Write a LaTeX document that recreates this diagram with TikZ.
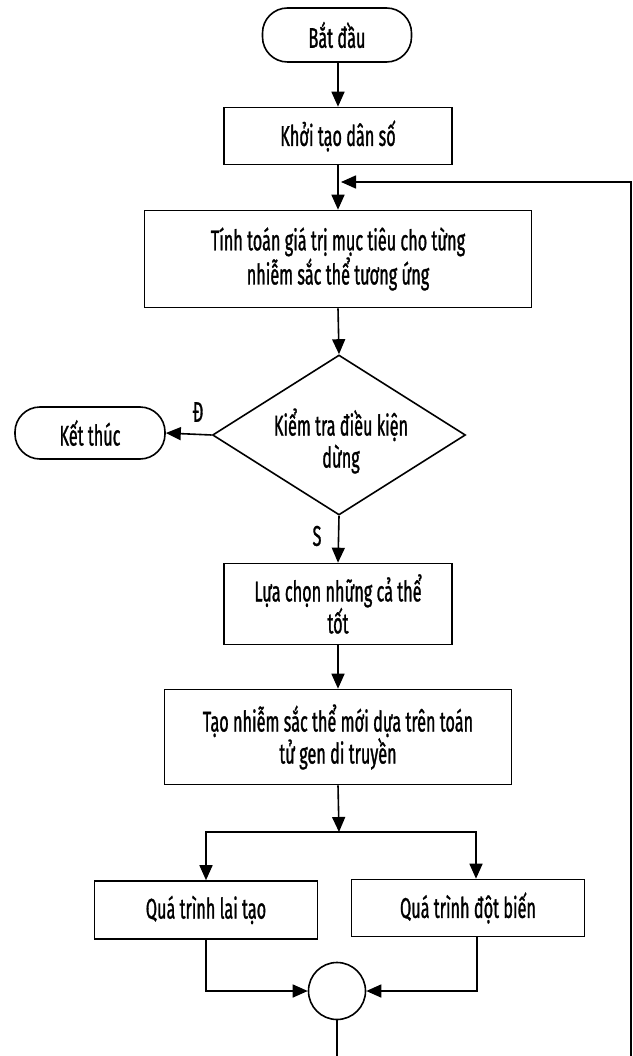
\documentclass[tikz,border=0pt]{standalone}
\usepackage{fontspec}
\setmainfont{Fira Sans}[FakeStretch=0.57,FakeBold=1.0]
\usetikzlibrary{arrows.meta,shapes.geometric}
\begin{document}
\begin{tikzpicture}[x=1pt,y=-1pt,
  every node/.style={font=\fontsize{28.5}{32}\selectfont},
  box/.style={draw,line width=1.6pt,rectangle,inner sep=0pt,align=center},
  term/.style={box,rounded corners=25pt},
  dia/.style={draw,line width=1.6pt,diamond,inner sep=0pt,minimum width=253pt,minimum height=160pt},
  jn/.style={draw,line width=1.6pt,circle,inner sep=0pt,minimum size=57pt},
  arr/.style={line width=1.6pt,-{Triangle[length=15pt,width=13pt]}},
  ln/.style={line width=1.6pt},
  lbl/.style={inner sep=0pt}]
\useasboundingbox (0,0) rectangle (632,1056);
\fill[white] (0,0) rectangle (632,1056);
\node[term,minimum width=149pt,minimum height=54pt] (start) at (337,35) {Bắt đầu};
\node[box,minimum width=228pt,minimum height=57pt] (init) at (338,136) {Khởi tạo dân số};
\node[box,minimum width=387pt,minimum height=97pt] (calc) at (338,259) {Tính toán giá trị mục tiêu cho từng\\nhiễm sắc thể tương ứng};
\node[dia] (dec) at (339,435) {};
\node[lbl,align=center] (dect) at (341,441) {Kiểm tra điều kiện\\dừng};
\node[term,minimum width=150pt,minimum height=52pt] (stop) at (90,433) {Kết thúc};
\node[box,minimum width=228pt,minimum height=81pt] (sel) at (338,604) {Lựa chọn những cả thể\\tốt};
\node[box,minimum width=347pt,minimum height=95pt] (gen) at (338,737) {Tạo nhiễm sắc thể mới dựa trên toán\\tử gen di truyền};
\node[box,minimum width=223pt,minimum height=58pt] (cross) at (206,910) {Quá trình lai tạo};
\node[box,minimum width=233pt,minimum height=57pt] (mut) at (468,908) {Quá trình đột biến};
\node[jn] (join) at (337,991) {};
\node[lbl] (lblD) at (198,412) {Đ};
\node[lbl] (lblS) at (317,536) {S};
\coordinate (loopIn) at (341,182);
\coordinate (loopR) at (631,182);
\coordinate (loopB) at (631,1080);
\coordinate (br) at (339,832);
\draw[arr] (start.south -| init.north) -- (init.north);
\draw[arr] (init.south) -- (calc.north);
\draw[arr] (calc.south) -- (dec.north);
\draw[arr] (dec.west) -- (stop.east);
\draw[arr] (dec.south) -- (sel.north);
\draw[arr] (sel.south) -- (gen.north);
\draw[arr] (gen.south) -- (br);
\draw[arr] (br) -| (cross.north);
\draw[arr] (br) -| ([xshift=8pt]mut.north);
\draw[arr] (cross.south) |- (join.west);
\draw[arr] ([xshift=9pt]mut.south) |- (join.east);
\draw[ln] (join.south) -- (join.south |- loopB) -- (loopB);
\draw[arr] (loopB) -- (loopR) -- (loopIn);
\end{tikzpicture}
\end{document}
